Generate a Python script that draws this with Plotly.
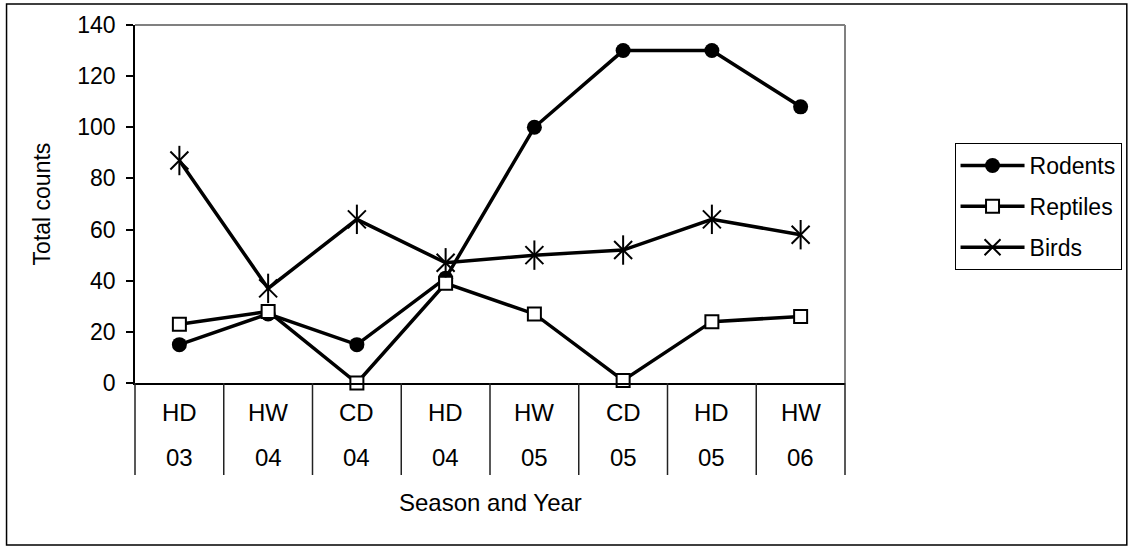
import plotly.graph_objects as go

seasons = ["HD", "HW", "CD", "HD", "HW", "CD", "HD", "HW"]
years = ["03", "04", "04", "04", "05", "05", "05", "06"]
categories = [f"{s} {y}" for s, y in zip(seasons, years)]

rodents = [15, 27, 15, 41, 100, 130, 130, 108]
reptiles = [23, 28, 0, 39, 27, 1, 24, 26]
birds = [87, 37, 64, 47, 50, 52, 64, 58]

FONT = "Liberation Sans, Arial, sans-serif"
FS = 23
FSX = 24

W, H = 1134, 547
L, R, T, B = 135, 286, 25, 164
pw = W - L - R
ph = H - T - B

def px_x(x):
    return (x - L) / pw

def px_y(y):
    return (H - B - y) / ph

fig = go.Figure()

fig.add_trace(go.Scatter(
    x=categories, y=rodents, name="Rodents", mode="lines+markers",
    line=dict(color="black", width=3.5), cliponaxis=False,
    marker=dict(symbol="circle", size=15, color="black"),
    legendgroup="a"))
fig.add_trace(go.Scatter(
    x=categories, y=reptiles, name="Reptiles", mode="lines+markers",
    line=dict(color="black", width=3.5), cliponaxis=False,
    marker=dict(symbol="square", size=13, color="white",
                line=dict(color="black", width=2)),
    legendgroup="b"))
fig.add_trace(go.Scatter(
    x=categories, y=birds, name="Birds", mode="lines+markers",
    line=dict(color="black", width=3.5), cliponaxis=False,
    marker=dict(symbol="x-thin-open", size=18, color="black",
                line=dict(color="black", width=2)),
    legendgroup="c"))
fig.add_trace(go.Scatter(
    x=categories, y=birds, name="Birds", mode="markers", cliponaxis=False,
    marker=dict(symbol="line-ns-open", size=21, color="black",
                line=dict(color="black", width=2)),
    legendgroup="c", showlegend=False, hoverinfo="skip"))

n = len(categories)
shapes = []
# category dividers below the axis
for i in range(n + 1):
    xp = i / n
    shapes.append(dict(type="line", xref="paper", yref="paper",
                       x0=xp, x1=xp, y0=0, y1=px_y(475),
                       line=dict(color="#222", width=1.5)))
# plot area top/right border
shapes.append(dict(type="line", xref="paper", yref="paper", x0=0, x1=1, y0=1, y1=1,
                   line=dict(color="#808080", width=2)))
shapes.append(dict(type="line", xref="paper", yref="paper", x0=1, x1=1, y0=0, y1=1,
                   line=dict(color="#808080", width=2)))
# outer chart border
shapes.append(dict(type="rect", xref="paper", yref="paper",
                   x0=px_x(6), x1=px_x(1131), y0=px_y(545), y1=px_y(4),
                   line=dict(color="black", width=1.5)))

annotations = []
for i in range(n):
    annotations.append(dict(x=categories[i], xref="x", y=px_y(412), yref="paper",
                            text=seasons[i], showarrow=False, yanchor="middle",
                            font=dict(family=FONT, size=FSX, color="black")))
    annotations.append(dict(x=categories[i], xref="x", y=px_y(457), yref="paper",
                            text=years[i], showarrow=False, yanchor="middle",
                            font=dict(family=FONT, size=FSX, color="black")))
annotations.append(dict(x=0.5, xref="paper", y=px_y(503), yref="paper",
                        text="Season and Year", showarrow=False, yanchor="middle",
                        font=dict(family=FONT, size=FSX, color="black")))
annotations.append(dict(x=px_x(42), xref="paper", y=0.5, yref="paper",
                        text="Total counts", showarrow=False, textangle=-90,
                        xanchor="center", yanchor="middle",
                        font=dict(family=FONT, size=FS, color="black")))

fig.update_layout(
    width=W, height=H,
    margin=dict(l=L, r=R, t=T, b=B),
    paper_bgcolor="white", plot_bgcolor="white",
    font=dict(family=FONT, size=FS, color="black"),
    showlegend=True,
    legend=dict(x=px_x(958), xanchor="left", y=px_y(143), yanchor="top",
                bordercolor="black", borderwidth=1, bgcolor="white",
                font=dict(family=FONT, size=FS, color="black"),
                tracegroupgap=8, itemwidth=64),
    shapes=shapes,
    annotations=annotations,
)
fig.update_xaxes(type="category", range=[-0.5, n - 0.5], showticklabels=False,
                 ticks="", showgrid=False, zeroline=False,
                 showline=True, linecolor="black", linewidth=1.5)
fig.update_yaxes(range=[0, 140], dtick=20, tick0=0, ticks="outside", ticklen=7,
                 tickcolor="black", tickwidth=1.5, showgrid=False, zeroline=False,
                 showline=True, linecolor="black", linewidth=1.5,
                 ticklabelstandoff=6,
                 tickfont=dict(family=FONT, size=FS, color="black"))

fig.write_html("out.html", config={"displayModeBar": False},
               post_script="document.body.style.margin='0px';document.body.style.overflow='hidden';")
